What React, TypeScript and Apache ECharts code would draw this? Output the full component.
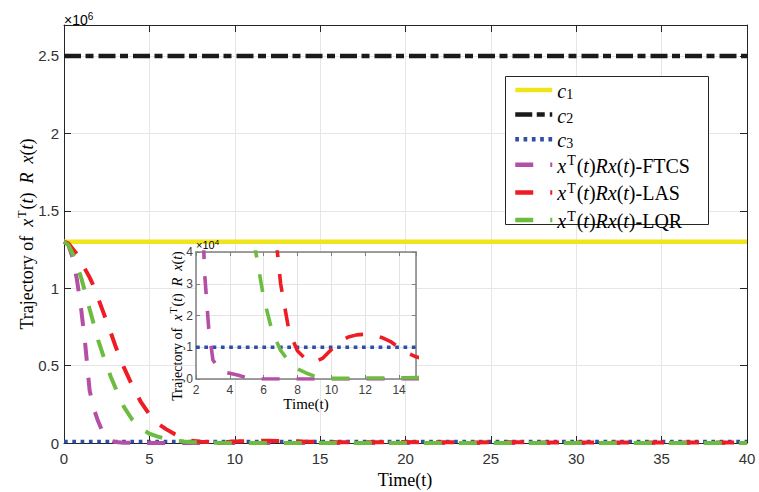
import React, { useEffect, useRef } from "react";
import * as echarts from "echarts";

// ---------- data ----------
const TIME = [0, 0.25, 0.5, 0.75, 1, 1.25, 1.5, 1.75, 2, 2.25, 2.5, 2.75, 3, 3.5, 4, 4.5, 5, 5.5, 6, 6.5, 7, 7.5, 8, 8.5, 9, 9.5, 10, 10.5, 11, 11.5, 12, 12.5, 13, 13.5, 14, 14.5, 15, 16, 18, 20, 22, 24, 26, 28, 30, 32, 34, 36, 38, 40];
const FTCS = [1300000, 1280000, 1200000, 1060000, 870000, 630000, 340000, 220000, 140000, 75000, 34000, 16000, 6000, 2200, 1800, 1200, 400, 50, 0, 0, 0, 0, 0, 0, 0, 0, 0, 0, 0, 0, 0, 0, 0, 0, 0, 0, 0, 0, 0, 0, 0, 0, 0, 0, 0, 0, 0, 0, 0, 0];
const LAS = [1300000, 1290000, 1255000, 1220000, 1170000, 1120000, 1070000, 1010000, 935000, 860000, 785000, 710000, 630000, 490000, 370000, 265000, 185000, 125000, 88000, 56000, 30000, 15000, 8800, 6200, 5300, 6600, 9300, 11800, 13200, 13900, 14100, 13700, 13000, 11800, 9800, 8200, 7000, 5500, 4500, 6000, 5000, 4000, 4500, 4000, 3500, 3500, 3000, 3000, 2500, 2500];
const LQR = [1300000, 1280000, 1225000, 1150000, 1070000, 970000, 865000, 765000, 665000, 580000, 500000, 425000, 360000, 235000, 150000, 95000, 60000, 41000, 25500, 15000, 9000, 5500, 3200, 1900, 900, 400, 200, 200, 200, 250, 300, 300, 300, 300, 350, 400, 450, 300, 200, 150, 150, 100, 100, 100, 100, 100, 100, 100, 100, 100];
const C_LEVELS = [1300000, 2500000, 10000]; // c1, c2, c3
const MAIN_X = [0, 40];
const INSET_X = [2, 15];
const MAIN_Y_MAX = 2700000;
const INSET_Y_MAX = 40000;
const LEGEND_NAMES = ["c1", "c2", "c3", "FTCS", "LAS", "LQR"];

// ---------- styles ----------
const SANS = "Liberation Sans, Arial, sans-serif";
const SERIF = "Liberation Serif, Times New Roman, serif";
const AX = "#262626";
const COLORS = {
  c1: "#f0e51c",
  c2: "#1a1a1a",
  c3: "#2f4ea5",
  FTCS: "#b44fa6",
  LAS: "#ee1d24",
  LQR: "#6cbd3f",
};
const DASH = [18, 17];

const pairs = (ys: number[]) => TIME.map((t, i) => [t, ys[i]]);
const hline = (range: number[], v: number) => [[range[0], v], [range[1], v]];

function mathRich(size: number) {
  return {
    n: { fontFamily: SERIF, fontSize: size, color: "#000", verticalAlign: "bottom", lineHeight: size + 2 },
    i: { fontFamily: SERIF, fontStyle: "italic", fontSize: size, color: "#000", verticalAlign: "bottom", lineHeight: size + 2 },
    sup: { fontFamily: SERIF, fontSize: Math.round(size * 0.68), color: "#000", verticalAlign: "top", lineHeight: Math.round(size * 0.68), padding: [0, 1, Math.round(size * 0.5), 1] },
    sub: { fontFamily: SERIF, fontSize: Math.round(size * 0.68), color: "#000", verticalAlign: "bottom", lineHeight: Math.round(size * 0.68), padding: [Math.round(size * 0.35), 0, 0, 0] },
  };
}

const yLabelText = "{n|Trajectory of  }{i|x}{sup|T}{n|(}{i|t}{n|)  }{i|R}{n|  }{i|x}{n|(}{i|t}{n|)}";

function legendFormatter(name: string) {
  if (name.startsWith("c")) return `{i|c}{sub|${name.slice(1)}}`;
  return `{i|x}{sup|T}{n|(}{i|t}{n|)}{i|Rx}{n|(}{i|t}{n|)-${name}}`;
}

function buildOption(): any {
  const mainX = {
    type: "value", min: MAIN_X[0], max: MAIN_X[1], interval: 5,
    axisLine: { show: true, onZero: false, lineStyle: { color: AX, width: 1 } },
    axisTick: { inside: true, length: 7, lineStyle: { color: AX } },
    splitLine: { show: true, lineStyle: { color: "#e6e6e6", width: 1 } },
    axisLabel: { color: "#333", fontFamily: SANS, fontSize: 15, margin: 8 },
  };
  const insetAxisLine = { show: true, onZero: false, lineStyle: { color: "#808080", width: 1.5 } };
  const series: any[] = [];
  const lineBase = { type: "line", symbol: "none", showSymbol: false, silent: true };
  const cTypes: any[] = ["solid", [17, 4.5, 8, 5], [3.7, 4.6]];
  LEGEND_NAMES.slice(0, 3).forEach((nm, k) => {
    series.push({
      ...lineBase, name: nm, xAxisIndex: 0, yAxisIndex: 0, z: 2,
      data: hline(MAIN_X, C_LEVELS[k]),
      lineStyle: { color: (COLORS as any)[nm], width: k === 2 ? 3.6 : 4.5, type: cTypes[k], cap: "butt" },
      itemStyle: { color: (COLORS as any)[nm] },
    });
  });
  const curves: [string, number[]][] = [["FTCS", FTCS], ["LAS", LAS], ["LQR", LQR]];
  curves.forEach(([nm, ys]) => {
    series.push({
      ...lineBase, name: nm, xAxisIndex: 0, yAxisIndex: 0, z: 2,
      data: pairs(ys),
      lineStyle: { color: (COLORS as any)[nm], width: 4, type: DASH, cap: "butt" },
      itemStyle: { color: (COLORS as any)[nm] },
    });
  });
  // inset
  series.push({
    ...lineBase, name: "c3", xAxisIndex: 2, yAxisIndex: 2, z: 6,
    data: hline(INSET_X, C_LEVELS[2]),
    lineStyle: { color: COLORS.c3, width: 3.6, type: [3.7, 4.6], cap: "butt" },
    itemStyle: { color: COLORS.c3 },
  });
  curves.forEach(([nm, ys]) => {
    series.push({
      ...lineBase, name: nm, xAxisIndex: 2, yAxisIndex: 2, z: 6, clip: true,
      data: pairs(ys),
      lineStyle: { color: (COLORS as any)[nm], width: 3.6, type: DASH, cap: "butt" },
      itemStyle: { color: (COLORS as any)[nm] },
    });
  });

  return {
    animation: false,
    backgroundColor: "#fff",
    grid: [
      { left: 64, right: 12, top: 25, bottom: 49 },
      { left: 196, width: 220, top: 252, height: 127 },
    ],
    xAxis: [
      { ...mainX, gridIndex: 0, position: "bottom" },
      { ...mainX, gridIndex: 0, position: "top", axisLabel: { show: false }, splitLine: { show: false } },
      {
        type: "value", gridIndex: 1, position: "bottom", min: INSET_X[0], max: INSET_X[1], interval: 2, z: 5,
        axisLine: insetAxisLine,
        axisTick: { inside: true, length: 4, lineStyle: { color: "#808080" } },
        splitLine: { show: true, lineStyle: { color: "#e3e3e3" } },
        axisLabel: { color: "#404040", fontFamily: SANS, fontSize: 12, margin: 5, showMaxLabel: false },
      },
      {
        type: "value", gridIndex: 1, position: "top", min: INSET_X[0], max: INSET_X[1], interval: 2, z: 5,
        axisLine: insetAxisLine,
        axisTick: { inside: true, length: 4, lineStyle: { color: "#808080" } },
        splitLine: { show: false }, axisLabel: { show: false },
      },
    ],
    yAxis: [
      {
        type: "value", gridIndex: 0, position: "left", min: 0, max: MAIN_Y_MAX, interval: 500000,
        axisLine: { show: true, onZero: false, lineStyle: { color: AX, width: 1 } },
        axisTick: { show: true, inside: true, length: 7, lineStyle: { color: AX } },
        splitLine: { show: true, lineStyle: { color: "#e6e6e6", width: 1 } },
        axisLabel: { color: "#333", fontFamily: SANS, fontSize: 15, margin: 5, showMaxLabel: false, formatter: (v: number) => String(v / 1e6) },
      },
      {
        type: "value", gridIndex: 0, position: "right", min: 0, max: MAIN_Y_MAX, interval: 500000,
        axisLine: { show: true, onZero: false, lineStyle: { color: AX, width: 1 } },
        axisTick: { show: true, inside: true, length: 7, lineStyle: { color: AX } },
        splitLine: { show: false }, axisLabel: { show: false },
      },
      {
        type: "value", gridIndex: 1, position: "left", min: 0, max: INSET_Y_MAX, interval: 10000, z: 5,
        axisLine: insetAxisLine,
        axisTick: { show: true, inside: true, length: 4, lineStyle: { color: "#808080" } },
        splitLine: { show: true, lineStyle: { color: "#e3e3e3" } },
        axisLabel: { color: "#404040", fontFamily: SANS, fontSize: 12, margin: 3, formatter: (v: number) => String(v / 1e4) },
      },
      {
        type: "value", gridIndex: 1, position: "right", min: 0, max: INSET_Y_MAX, interval: 10000, z: 5,
        axisLine: insetAxisLine,
        axisTick: { show: true, inside: true, length: 4, lineStyle: { color: "#808080" } },
        splitLine: { show: false }, axisLabel: { show: false },
      },
    ],
    legend: {
      data: LEGEND_NAMES,
      orient: "vertical",
      left: 513,
      top: 80,
      padding: 0,
      itemWidth: 37,
      itemHeight: 20,
      itemGap: 3.6,
      selectedMode: false,
      z: 10,
      itemStyle: { opacity: 0, borderWidth: 0 },
      lineStyle: { width: 4.5 },
      formatter: legendFormatter,
      textStyle: { fontFamily: SERIF, fontSize: 20, color: "#000", rich: mathRich(20) },
    },
    graphic: [
      { type: "rect", z: 3, silent: true, shape: { x: 196, y: 252, width: 220, height: 127 }, style: { fill: "#fff" } },
      { type: "rect", z: 8, silent: true, shape: { x: 505.5, y: 76.5, width: 203, height: 148 }, style: { fill: "#fff", stroke: AX, lineWidth: 1 } },
      { type: "text", z: 8, x: 64, y: 19, style: { text: "{a|×10}{b|6}", verticalAlign: "middle", rich: { a: { fontFamily: SANS, fontSize: 14, color: "#333", verticalAlign: "bottom", lineHeight: 15 }, b: { fontFamily: SANS, fontSize: 10, color: "#333", verticalAlign: "top", lineHeight: 10, padding: [0, 0, 6, 0] } } } },
      { type: "text", z: 8, x: 196, y: 244, style: { text: "{a|×10}{b|4}", verticalAlign: "middle", rich: { a: { fontFamily: SANS, fontSize: 11, color: "#404040", verticalAlign: "bottom", lineHeight: 12 }, b: { fontFamily: SANS, fontSize: 8, color: "#404040", verticalAlign: "top", lineHeight: 8, padding: [0, 0, 5, 0] } } } },
      { type: "text", z: 8, x: 405, y: 480, style: { text: "Time(t)", fontFamily: SERIF, fontSize: 18, fill: "#000", align: "center", verticalAlign: "middle" } },
      { type: "text", z: 8, x: 306, y: 404, style: { text: "Time(t)", fontFamily: SERIF, fontSize: 15, fill: "#000", align: "center", verticalAlign: "middle" } },
      { type: "text", z: 8, x: 26, y: 234, rotation: Math.PI / 2, style: { text: yLabelText, align: "center", verticalAlign: "middle", rich: mathRich(18) } },
      { type: "text", z: 8, x: 176, y: 326, rotation: Math.PI / 2, style: { text: yLabelText, align: "center", verticalAlign: "middle", rich: mathRich(14) } },
    ],
    series,
  };
}

export default function App() {
  const ref = useRef<HTMLDivElement>(null);
  useEffect(() => {
    if (!ref.current) return;
    const chart = echarts.init(ref.current, null, { renderer: "svg" });
    chart.setOption(buildOption());
    return () => chart.dispose();
  }, []);
  return (
    <div
      ref={ref}
      style={{ position: "fixed", left: 0, top: 0, width: 759, height: 492, background: "#fff" }}
    />
  );
}
